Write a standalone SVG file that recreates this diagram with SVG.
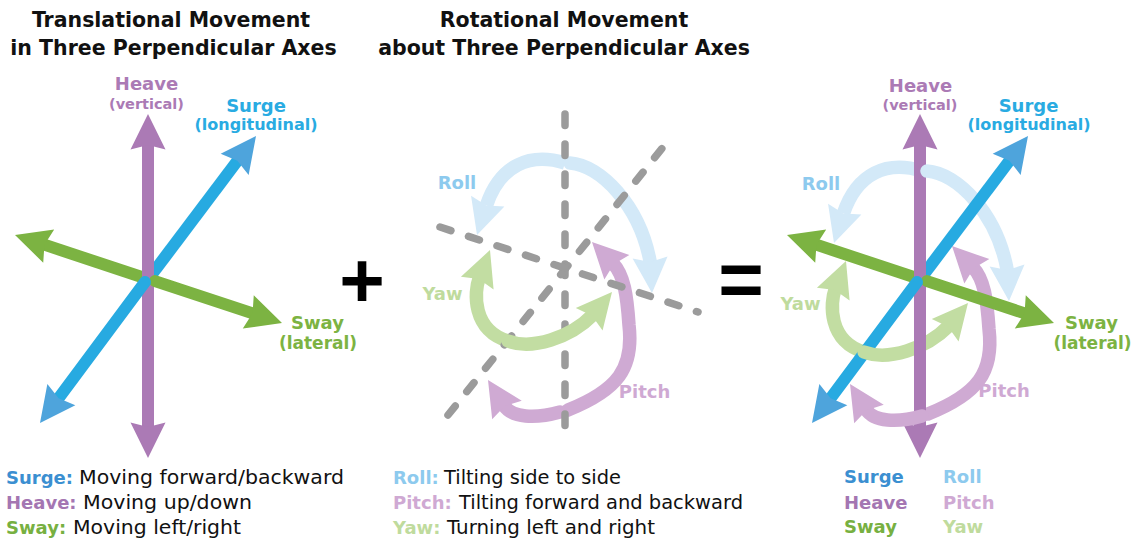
<svg xmlns="http://www.w3.org/2000/svg" xmlns:xlink="http://www.w3.org/1999/xlink" width="1138" height="542" viewBox="0 0 1138 542">
<style>
text{font-family:"DejaVu Sans","Liberation Sans",sans-serif}
.t{font-weight:bold;font-size:20.5px;fill:#111;text-anchor:middle}
.lb{font-weight:bold;font-size:18px;text-anchor:middle}
.sub{font-weight:bold;text-anchor:middle}
.lg{font-weight:bold;font-size:18px}
.ds{font-size:20px;fill:#111}
.ax{fill:none;stroke-width:12}
.rot{fill:none;stroke-width:13.5;stroke-linecap:round}
.butt{stroke-linecap:butt}
.op{font-family:"Liberation Sans",sans-serif;font-weight:bold;font-size:78px;fill:#000;text-anchor:middle}
.cH{fill:#ab7ab5}.cS{fill:#29abe2}.cW{fill:#7cb342}.cR{fill:#8dcaee}.cY{fill:#bfdb9d}.cPi{fill:#cfa9d3}
.kS{fill:#3b8fd1}.kH{fill:#a476b2}.kW{fill:#77b041}
</style>
<defs>
<path id="ah" d="M0 0L-35.5 -17.5L-31 0L-35.5 17.5Z"/>
<clipPath id="rc"><rect x="926" y="0" width="212" height="542"/></clipPath>
<clipPath id="np"><path clip-rule="evenodd" d="M0 0H1138V542H0Z M914 0H926V542H914Z"/></clipPath>
<g id="gL"><path class="ax" stroke="#7cb342" d="M43.5 244.4L150 279.8"/><use xlink:href="#ah" fill="#7cb342" transform="translate(15 235) rotate(-161.75)"/></g>
<g id="bU"><path class="ax" stroke="#27aae1" d="M148 279.5L238 160"/><use xlink:href="#ah" fill="#4ea4dc" transform="translate(256 136) rotate(-53.04)"/></g>
<g id="pV"><path class="ax" stroke="#ab7ab5" d="M148 144V428"/><use xlink:href="#ah" fill="#ab7ab5" transform="translate(148 114) rotate(-90)"/><use xlink:href="#ah" fill="#ab7ab5" transform="translate(148 458) rotate(90)"/></g>
<g id="gR"><path class="ax" stroke="#7cb342" stroke-linecap="round" d="M155 281.1L253.5 313.6"/><use xlink:href="#ah" fill="#7cb342" transform="translate(282 323) rotate(18.25)"/></g>
<g id="bL"><path class="ax" stroke="#27aae1" stroke-linecap="round" d="M145 282L58 399"/><use xlink:href="#ah" fill="#4ea4dc" transform="translate(40 423) rotate(126.96)"/></g>
<g id="rollL"><path class="rot butt" stroke="#d3e9f8" d="M565 163C530 152 500 165 486.4 205.5"/><use xlink:href="#ah" fill="#d3e9f8" transform="translate(477 235) rotate(107.6)"/></g>
<g id="rollR"><path class="rot" stroke="#d3e9f8" d="M570 163C600 165 640 205 650.4 263"/><use xlink:href="#ah" fill="#d3e9f8" transform="translate(652 293) rotate(86.9)"/></g>
<g id="yawL"><path class="rot butt" stroke="#c2dda2" d="M479.2 278C474 292 472 330 508 341"/><use xlink:href="#ah" fill="#c2dda2" transform="translate(490 250) rotate(-68.97)"/></g>
<g id="yawR"><path class="rot" stroke="#c2dda2" d="M508 341C532 350 570 338 592.7 315"/><use xlink:href="#ah" fill="#c2dda2" transform="translate(612 292) rotate(-50)"/></g>
<g id="pitchU"><path class="rot" stroke="#cfaad3" d="M568 410C618 390 634 368 629 325C627 295 624 275 613 263.4"/><use xlink:href="#ah" fill="#cfaad3" transform="translate(592 242) rotate(-134.4)"/></g>
<g id="pitchL"><path class="rot" stroke="#cfaad3" d="M504 405.4C512 418 535 419 560 412"/><use xlink:href="#ah" fill="#cfaad3" transform="translate(488 380) rotate(-122.3)"/></g>
</defs>

<g id="titles">
<text class="t" x="171" y="27">Translational Movement</text>
<text class="t" x="173.5" y="55">in Three Perpendicular Axes</text>
<text class="t" x="564" y="27">Rotational Movement</text>
<text class="t" x="564" y="55">about Three Perpendicular Axes</text>
</g>

<g id="translational">
<use xlink:href="#gL"/>
<use xlink:href="#bU"/>
<use xlink:href="#pV"/>
<use xlink:href="#gR"/>
<use xlink:href="#bL"/>
<text class="lb cH" x="146.5" y="90">Heave</text>
<text class="sub cH" x="146.5" y="108.5" font-size="14.5">(vertical)</text>
<text class="lb cS" x="256" y="112">Surge</text>
<text class="sub cS" x="256" y="130" font-size="16">(longitudinal)</text>
<text class="lb cW" x="317.5" y="328.5">Sway</text>
<text class="sub cW" x="318" y="349" font-size="17">(lateral)</text>
</g>

<g id="plus"><text class="op" x="362" y="307">+</text></g>

<g id="rotational">
<use xlink:href="#rollL"/>
<use xlink:href="#rollR"/>
<use xlink:href="#yawL"/>
<use xlink:href="#pitchU"/>
<use xlink:href="#pitchL"/>
<g id="axes-dashed" fill="none" stroke="#9b9b9b" stroke-width="7.5" stroke-linecap="round" stroke-dasharray="11.5 18.5">
<path d="M565 114V442"/>
<path d="M448 415L668 141"/>
<path d="M440 227L698 312"/>
</g>
<use xlink:href="#yawR"/>
<text class="lb cR" x="457" y="189">Roll</text>
<text class="lb cY" x="442.5" y="300">Yaw</text>
<text class="lb cPi" x="644.5" y="398">Pitch</text>
</g>

<g id="equals"><text class="op" x="741" y="306">=</text></g>

<g id="combined">
<use xlink:href="#rollL" transform="translate(357 8)"/>
<use xlink:href="#pitchU" transform="translate(360 4)"/>
<use xlink:href="#yawL" transform="translate(356 11)"/>
<use xlink:href="#gL" transform="translate(772 0)"/>
<use xlink:href="#pV" transform="translate(772 0)"/>
<use xlink:href="#rollR" transform="translate(357 8)"/>
<g clip-path="url(#rc)"><use xlink:href="#bU" transform="translate(772 0)"/></g>
<use xlink:href="#gR" transform="translate(772 0)"/>
<use xlink:href="#bL" transform="translate(772 0)"/>
<g clip-path="url(#np)"><use xlink:href="#yawR" transform="translate(356 11)"/></g>
<use xlink:href="#pitchL" transform="translate(362 4)"/>
<text class="lb cH" x="920.5" y="92">Heave</text>
<text class="sub cH" x="920" y="110" font-size="14.5">(vertical)</text>
<text class="lb cS" x="1028.5" y="112">Surge</text>
<text class="sub cS" x="1029" y="130" font-size="16">(longitudinal)</text>
<text class="lb cR" x="821" y="190">Roll</text>
<text class="lb cY" x="800.5" y="310">Yaw</text>
<text class="lb cW" x="1091.5" y="328.5">Sway</text>
<text class="sub cW" x="1092.5" y="349" font-size="17">(lateral)</text>
<text class="lb cPi" x="1004" y="397">Pitch</text>
</g>

<g id="legend">
<text class="lg kS" x="6" y="484">Surge:</text><text class="ds" x="79" y="484" textLength="265" lengthAdjust="spacingAndGlyphs">Moving forward/backward</text>
<text class="lg kH" x="6" y="509">Heave:</text><text class="ds" x="83" y="509" textLength="169" lengthAdjust="spacingAndGlyphs">Moving up/down</text>
<text class="lg kW" x="6" y="534">Sway:</text><text class="ds" x="73" y="534" textLength="168" lengthAdjust="spacingAndGlyphs">Moving left/right</text>
<text class="lg cR" x="393" y="484">Roll:</text><text class="ds" x="444" y="484" textLength="177" lengthAdjust="spacingAndGlyphs">Tilting side to side</text>
<text class="lg cPi" x="393" y="509">Pitch:</text><text class="ds" x="459" y="509" textLength="284" lengthAdjust="spacingAndGlyphs">Tilting forward and backward</text>
<text class="lg cY" x="393" y="534">Yaw:</text><text class="ds" x="447" y="534" textLength="208" lengthAdjust="spacingAndGlyphs">Turning left and right</text>
<text class="lg kS" x="844" y="483">Surge</text><text class="lg cR" x="943" y="483">Roll</text>
<text class="lg kH" x="844" y="509">Heave</text><text class="lg cPi" x="943" y="509">Pitch</text>
<text class="lg kW" x="844" y="533">Sway</text><text class="lg cY" x="943" y="533">Yaw</text>
</g>
</svg>
